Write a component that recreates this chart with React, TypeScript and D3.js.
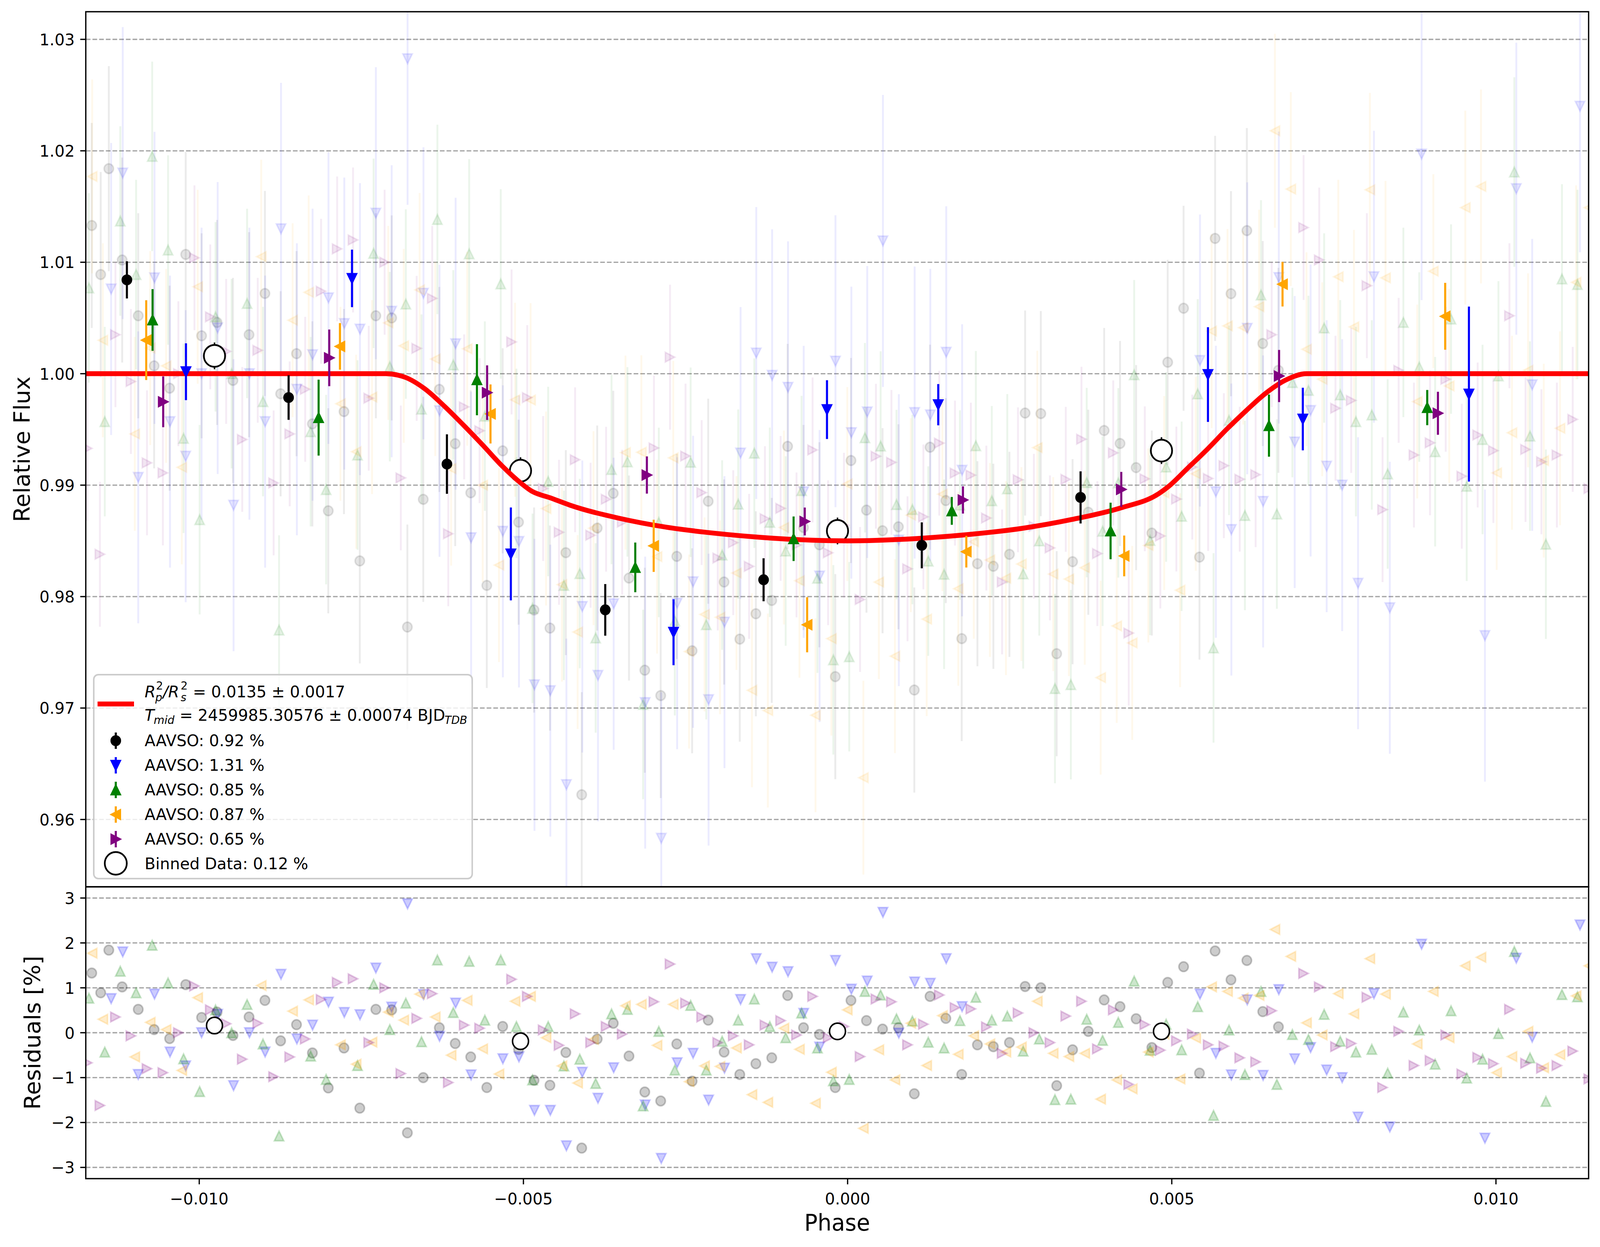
import React from 'react';
import * as d3 from 'd3';

const W = 4215;
const H = 3192;
const LEFT = 226;
const RIGHT = 4185;
const TOP = 30;
const MID = 2270;
const BOTTOM = 3017;
const FONT = "'DejaVu Sans', sans-serif";

// red transit model
const modelPhase = [
  -0.0118, -0.00712, -0.00682, -0.00652, -0.00622, -0.00593, -0.00563, -0.00533, -0.00503,
  -0.00488, -0.00458, -0.00428, -0.00354, -0.00279, -0.00204, -0.0013, -0.00055, 0.0,
  0.00114, 0.00197, 0.00271, 0.00346, 0.00421, 0.0048, 0.00495, 0.00525, 0.00555,
  0.00585, 0.00615, 0.00645, 0.00675, 0.00708, 0.0115,
];
const modelFlux = [
  1.0, 1.0, 0.99967, 0.99864, 0.99709, 0.99542, 0.99361, 0.99173, 0.99014,
  0.98949, 0.98885, 0.9882, 0.98705, 0.98622, 0.98568, 0.9853, 0.98506, 0.985,
  0.98524, 0.98563, 0.98614, 0.98692, 0.98795, 0.98924, 0.98988, 0.99155, 0.99323,
  0.99503, 0.9967, 0.99825, 0.99941, 1.0, 1.0,
];

// residuals [phase, residual %] for each AAVSO set
const resBlack: [number, number][] = [
  [-0.011658, 1.33], [-0.01152, 0.89], [-0.011395, 1.84], [-0.011189, 1.02], [-0.010941, 0.52],
  [-0.010696, 0.07], [-0.010457, -0.13], [-0.010209, 1.07], [-0.009964, 0.34], [-0.009725, 0.46],
  [-0.00948, -0.06], [-0.009232, 0.35], [-0.008987, 0.72], [-0.008745, -0.18], [-0.0085, 0.18],
  [-0.008255, -0.45], [-0.00801, -1.23], [-0.007768, -0.34], [-0.007524, -1.68], [-0.007276, 0.52],
  [-0.007032, 0.51], [-0.00679, -2.23], [-0.006545, -1.0], [-0.006297, 0.11], [-0.006052, -0.24],
  [-0.005813, -0.54], [-0.005565, -1.22], [-0.00532, 0.14], [-0.005075, -0.37], [-0.004836, -1.06],
  [-0.004591, -1.17], [-0.004346, -0.44], [-0.004101, -2.57], [-0.003862, -0.14], [-0.003614, 0.21],
  [-0.003372, -0.52], [-0.003128, -1.32], [-0.002883, -1.52], [-0.002635, -0.25],
  [-0.002398, -1.08], [-0.00215, 0.28], [-0.001905, -0.43], [-0.001663, -0.93], [-0.001415, -0.69],
  [-0.00117, -0.56], [-0.000925, 0.83], [-0.00068, 0.11], [-0.000435, -0.04], [-0.00019, -1.22],
  [0.000052, 0.72], [0.000291, 0.27], [0.000539, 0.08], [0.000784, 0.11], [0.001029, -1.36],
  [0.001271, 0.81], [0.001515, 0.32], [0.00176, -0.93], [0.002002, -0.27],
  [0.002248, -0.31], [0.002496, -0.22], [0.002738, 1.03], [0.00298, 1.0], [0.003225, -1.18],
  [0.00347, -0.38], [0.003712, 0.03], [0.003957, 0.73], [0.004202, 0.58], [0.00445, 0.31],
  [0.004692, -0.33], [0.004937, 1.12], [0.005182, 1.47], [0.005427, -0.9], [0.005668, 1.82],
  [0.005913, 1.18], [0.006158, 1.61], [0.006403, 0.47], [0.006645, 0.13],
];
const resBlue: [number, number][] = [
  [-0.011359, 0.76], [-0.01118, 1.8], [-0.010941, -0.93], [-0.01069, 0.86], [-0.010451, -0.43],
  [-0.010209, -0.74], [-0.009964, 0.0], [-0.009716, 0.41], [-0.009471, -1.18], [-0.009226, 0.0],
  [-0.008984, -0.43], [-0.008739, 1.3], [-0.008494, -0.14], [-0.008252, 0.17], [-0.008007, 0.68],
  [-0.007763, 0.45], [-0.007521, 0.4], [-0.007276, 1.44],
  [-0.007032, 0.57], [-0.006787, 2.87], [-0.006542, 0.85], [-0.006294, -0.08], [-0.006046, 0.66],
  [-0.005807, -0.94], [-0.005317, -0.58], [-0.005069, -0.54], [-0.00483, -1.73], [-0.004585, -1.73],
  [-0.004337, -2.52], [-0.004092, -0.88], [-0.00385, -1.46], [-0.003608, -0.78], [-0.003122, -1.61],
  [-0.002874, -2.8], [-0.002629, -0.67],
  [-0.002383, -0.46], [-0.002144, -1.5], [-0.001899, -0.79], [-0.001651, 0.74], [-0.001409, 1.65],
  [-0.001164, 1.46], [-0.000919, 1.36], [-0.000677, 0.43], [-0.000432, -0.32], [-0.000187, 1.61],
  [0.000058, 0.97], [0.000303, 1.15], [0.000545, 2.68], [0.00079, -0.01], [0.001034, 1.13],
  [0.001276, 1.1], [0.001521, 1.65], [0.001766, 0.58],
  [0.005435, 0.86], [0.00568, -0.46], [0.005919, -0.94], [0.006164, 0.73], [0.006409, -0.95],
  [0.006651, 0.96], [0.006896, -0.58], [0.007141, -0.33], [0.007389, -0.83], [0.007628, -1.0],
  [0.007873, -1.88], [0.008118, 0.87], [0.008363, -2.1], [0.008853, 1.97], [0.00983, -2.35],
  [0.010314, 1.66], [0.010559, -0.1], [0.011296, 2.4],
];
const resGreen: [number, number][] = [
  [-0.011702, 0.77], [-0.011457, -0.43], [-0.011218, 1.37], [-0.010974, 0.89], [-0.010726, 1.95],
  [-0.010481, 1.11], [-0.010242, -0.58], [-0.009994, -1.31], [-0.009749, 0.51], [-0.009501, 0.0],
  [-0.009262, 0.63], [-0.009017, -0.25], [-0.008769, -2.3], [-0.008282, -0.52], [-0.008043, -1.04],
  [-0.007559, -0.73], [-0.007311, 1.08],
  [-0.007061, 0.07], [-0.006814, 0.66], [-0.006572, -0.2], [-0.006327, 1.62], [-0.006082, 0.45],
  [-0.005837, 1.59], [-0.005595, 0.28], [-0.00535, 1.62], [-0.005108, 0.14], [-0.00486, -1.05],
  [-0.004618, 0.14], [-0.004376, -0.74], [-0.004131, -0.59], [-0.003886, -1.13], [-0.003641, 0.42],
  [-0.003396, 0.52], [-0.003154, -1.63], [-0.002912, 0.03], [-0.002665, -0.83],
  [-0.002421, 0.61], [-0.00218, -0.83], [-0.001935, -0.19], [-0.001687, 0.28], [-0.001439, 0.75],
  [-0.0012, 0.14], [-0.000955, -0.11], [-0.00071, 0.44], [-0.000465, -0.34], [-0.00022, -1.07],
  [0.000025, -1.04], [0.000267, 0.92], [0.000509, 0.84], [0.000754, 0.31], [0.000999, 0.26],
  [0.001244, -0.21], [0.001488, -0.34], [0.001733, 0.27], [0.001978, 0.79],
  [0.002224, 0.28], [0.002463, 0.37], [0.002708, -0.41], [0.002956, -0.14], [0.003198, -1.49],
  [0.003443, -1.48], [0.003688, 0.3], [0.003933, -0.17], [0.004175, 0.23], [0.00442, 1.15],
  [0.004665, -0.39], [0.004913, 0.19], [0.005152, -0.38], [0.0054, 0.58], [0.005644, -1.84],
  [0.005883, 0.06], [0.006128, -0.93], [0.006376, 0.92], [0.006621, -1.15],
  [0.00686, -0.04], [0.007108, -0.15], [0.00735, 0.41], [0.007598, -0.19], [0.00784, -0.43],
  [0.008085, -0.37], [0.00833, -0.9], [0.008572, 0.46], [0.008817, 0.06], [0.009062, -0.7],
  [0.009307, 0.49], [0.009549, -1.01], [0.009793, -0.59], [0.010038, -0.02], [0.010283, 1.81],
  [0.010525, -0.56], [0.01077, -1.53], [0.011018, 0.85], [0.011257, 0.8],
];
const resOrange: [number, number][] = [
  [-0.011652, 1.77], [-0.011487, 0.3], [-0.010994, -0.54], [-0.010756, 0.23], [-0.010511, 0.07],
  [-0.010269, -0.84], [-0.010024, 0.78], [-0.009044, 1.05], [-0.00856, 0.48], [-0.008312, 0.73],
  [-0.007822, -0.27], [-0.00758, -0.7], [-0.007335, -0.21],
  [-0.007085, 0.46], [-0.006846, 0.28], [-0.006601, 0.86], [-0.00636, 0.35], [-0.006115, -0.5],
  [-0.005867, 0.72], [-0.005628, -0.36], [-0.005377, -0.92], [-0.005129, 0.7], [-0.00489, 0.81],
  [-0.004651, -0.11], [-0.004406, -0.74], [-0.004164, -1.12], [-0.003919, -0.15], [-0.003426, 0.6],
  [-0.003181, 0.63], [-0.002939, -0.28], [-0.002689, 0.63],
  [-0.002445, -1.09], [-0.002206, -0.74], [-0.001968, -0.75], [-0.001714, -0.34], [-0.001475, -1.38],
  [-0.00123, -1.55], [-0.000982, 0.1], [-0.000743, -0.37], [-0.000495, -1.57], [-0.00025, -0.88],
  [-0.000005, 0.51], [0.000243, -2.13], [0.000482, -0.38], [0.00073, -1.05], [0.000975, 0.21],
  [0.00122, -0.73], [0.001462, 0.38], [0.001707, -0.48], [0.001946, -0.07],
  [0.002195, -0.25], [0.002442, -0.43], [0.002681, -0.32], [0.002926, 0.7], [0.003171, -0.46],
  [0.003413, -0.53], [0.003658, -0.46], [0.003903, -1.48], [0.004151, -1.05], [0.00439, -1.25],
  [0.004638, -0.43], [0.004883, -0.03], [0.005128, -1.03], [0.00537, -0.12], [0.005615, 1.02],
  [0.00586, 0.92], [0.006102, 0.77], [0.006347, 0.83], [0.006591, 2.3],
  [0.006836, 1.7], [0.007078, 0.22], [0.00732, -0.05], [0.007568, 0.87], [0.00781, 0.42],
  [0.008055, 1.65], [0.008297, 0.86], [0.008786, -0.25], [0.009034, 0.92], [0.009279, -0.11],
  [0.009527, 1.49], [0.009769, 1.68], [0.010011, -0.89], [0.010247, -0.53], [0.010495, 0.03],
  [0.010737, -0.78], [0.010988, -0.49], [0.011236, 0.82], [0.011432, 1.49],
];
const resPurple: [number, number][] = [
  [-0.011726, -0.67], [-0.011532, -1.62], [-0.011293, 0.35], [-0.011054, -0.07], [-0.010806, -0.8],
  [-0.010561, -0.89], [-0.010322, 0.0], [-0.010074, 1.04], [-0.00983, 0.51], [-0.009585, 0.2],
  [-0.009337, -0.59], [-0.009098, 0.21], [-0.008853, -0.98], [-0.008605, -0.54], [-0.008366, -0.14],
  [-0.008121, 0.74], [-0.007873, 1.12], [-0.007628, 1.2], [-0.007386, -0.22], [-0.007141, 1.0],
  [-0.006891, -0.91], [-0.006646, 0.32], [-0.006407, 0.87], [-0.006159, -1.11], [-0.005914, 0.17],
  [-0.005676, 0.1], [-0.005183, 1.19], [-0.004941, 0.81], [-0.004696, 0.06], [-0.004451, -0.28],
  [-0.004203, 0.42], [-0.003964, -0.22], [-0.003725, 0.14], [-0.003477, -0.03], [-0.002987, 0.69],
  [-0.002739, 1.53], [-0.0025, 0.66],
  [-0.002251, 0.35], [-0.002003, -0.22], [-0.001764, -0.07], [-0.001519, -0.27], [-0.001275, 0.17],
  [-0.001033, 0.27], [-0.000788, -0.05], [-0.00054, 0.81], [-0.000301, -0.11], [-0.000056, 0.14],
  [0.000192, -0.53], [0.000437, 0.75], [0.000676, 0.69], [0.000924, -0.27], [0.001169, 0.19],
  [0.001414, 0.84], [0.001656, 0.56], [0.001901, 0.53], [0.00214, 0.13],
  [0.002383, -0.46], [0.002628, 0.44], [0.002873, 0.0], [0.003121, -0.22], [0.003365, 0.37],
  [0.003607, 0.7], [0.003852, -0.36], [0.004097, 0.51], [0.004336, -1.15], [0.004584, 0.18],
  [0.004823, -0.39], [0.005071, -0.18], [0.005316, -0.03], [0.005561, -0.27], [0.005803, -0.3],
  [0.006048, -0.56], [0.006293, -0.65], [0.006541, 0.49],
  [0.007033, 1.32], [0.007274, 1.02], [0.007525, -0.31], [0.007767, -0.24], [0.008009, 0.79],
  [0.008251, -1.22], [0.008499, 0.03], [0.008735, -0.73], [0.008983, -0.62], [0.009225, -0.05],
  [0.009473, -0.92], [0.009718, -0.55], [0.00996, -0.69], [0.010208, 0.52], [0.010456, -0.68],
  [0.010701, -0.79], [0.01094, -0.73], [0.011184, -0.41], [0.011432, -1.03],
];

// binned points per set [phase, flux, error]
const binBlack: [number, number, number][] = [
  [-0.011116, 1.00842, 0.00167], [-0.008622, 0.99786, 0.002], [-0.00618, 0.99189, 0.00267],
  [-0.003738, 0.97881, 0.00232], [-0.001296, 0.98151, 0.00193], [0.001144, 0.9846, 0.00206],
  [0.003593, 0.9889, 0.00234],
];
const binBlue: [number, number, number][] = [
  [-0.010205, 1.00018, 0.00255], [-0.007644, 1.00855, 0.00258], [-0.005194, 0.98383, 0.00417],
  [-0.002685, 0.9768, 0.00296], [-0.000318, 0.99678, 0.00264], [0.001398, 0.99722, 0.00185],
  [0.005558, 0.99992, 0.00425], [0.007021, 0.99593, 0.00281], [0.009583, 0.99817, 0.00785],
];
const binGreen: [number, number, number][] = [
  [-0.01072, 1.00482, 0.00277], [-0.008159, 0.99606, 0.00341], [-0.005717, 0.99946, 0.00319],
  [-0.003275, 0.98262, 0.00223], [-0.000833, 0.98519, 0.002], [0.001607, 0.98769, 0.00125],
  [0.004056, 0.98589, 0.00254], [0.006499, 0.99534, 0.00279], [0.00894, 0.99696, 0.00158],
];
const binOrange: [number, number, number][] = [
  [-0.010818, 1.00301, 0.00358], [-0.00783, 1.00245, 0.00209], [-0.005508, 0.99639, 0.00265],
  [-0.002991, 0.98455, 0.00234], [-0.000624, 0.97747, 0.00247], [0.001831, 0.98403, 0.00142],
  [0.004266, 0.98365, 0.00183], [0.006708, 1.00803, 0.002], [0.009217, 1.00515, 0.003],
];
const binPurple: [number, number, number][] = [
  [-0.010556, 0.99748, 0.00228], [-0.007995, 1.00142, 0.00254], [-0.00556, 0.9983, 0.00245],
  [-0.003096, 0.99091, 0.00167], [-0.000661, 0.98674, 0.00125], [0.001779, 0.98867, 0.00122],
  [0.004221, 0.98962, 0.00157], [0.006655, 0.99979, 0.00234], [0.009105, 0.99645, 0.00193],
];

// all sets binned together
const binnedPhase = [-0.009765, -0.005045, -0.000156, 0.004841];
const binnedFlux = [1.0016, 0.9913, 0.98589, 0.9931];
const binnedErr = [0.0012, 0.0012, 0.0012, 0.0012];
const binnedResid = [0.16, -0.19, 0.03, 0.03];

const seriesLabels = ['AAVSO: 0.92 %', 'AAVSO: 1.31 %', 'AAVSO: 0.85 %', 'AAVSO: 0.87 %', 'AAVSO: 0.65 %'];
const seriesColors = ['#000000', '#0000ff', '#008000', '#ffa500', '#800080'];
const seriesMarkers = ['o', 'v', '^', '<', '>'];
const rawErr = [0.0092, 0.0131, 0.0085, 0.0087, 0.0065];
const seriesRes = [resBlack, resBlue, resGreen, resOrange, resPurple];
const seriesBins = [binBlack, binBlue, binGreen, binOrange, binPurple];

const xTicks = [-0.01, -0.005, 0, 0.005, 0.01];
const yTicksMain = [0.96, 0.97, 0.98, 0.99, 1.0, 1.01, 1.02, 1.03];
const yTicksRes = [-3, -2, -1, 0, 1, 2, 3];

const x = d3.scaleLinear().domain([-0.01175, 0.011429]).range([LEFT, RIGHT]);
const yMain = d3.scaleLinear().domain([0.95396, 1.03248]).range([MID, TOP]);
const yRes = d3.scaleLinear().domain([-3.25, 3.25]).range([BOTTOM, MID]);
const modelAt = d3.scaleLinear().domain(modelPhase).range(modelFlux).clamp(true);

const modelLine = d3
  .line<number>()
  .x((_, i) => x(modelPhase[i]))
  .y((d) => yMain(d))
  .curve(d3.curveMonotoneX);

function markerPath(shape: string, s: number): string {
  const h = s / 2;
  if (shape === 'v') return `M${-h},${-h}L${h},${-h}L0,${h}Z`;
  if (shape === '^') return `M${-h},${h}L${h},${h}L0,${-h}Z`;
  if (shape === '<') return `M${h},${-h}L${h},${h}L${-h},0Z`;
  if (shape === '>') return `M${-h},${-h}L${-h},${h}L${h},0Z`;
  return `M${h},0A${h},${h} 0 1,1 ${-h},0A${h},${h} 0 1,1 ${h},0Z`;
}

const fmtMain = d3.format('.2f');
const fmtRes = d3.format('d');
const fmtX = d3.format('.3f');

const TICK = 14.6;
const TICK_FS = 41.7;
const LABEL_FS = 58;
const GRID = { stroke: '#a6a6a6', strokeWidth: 3.3, strokeDasharray: '12.3,5.3' };

const App: React.FC = () => {
  const legendRows = [1910, 1973, 2036, 2099, 2162];
  return (
    <div style={{ position: 'fixed', left: 0, top: 0, right: 0, bottom: 0, background: '#fff' }}>
      <svg
        width="100%"
        height="100%"
        viewBox={`0 0 ${W} ${H}`}
        preserveAspectRatio="none"
        style={{ display: 'block' }}
        fontFamily={FONT}
      >
        <defs>
          <clipPath id="clipMain">
            <rect x={LEFT} y={TOP} width={RIGHT - LEFT} height={MID - TOP} />
          </clipPath>
          <clipPath id="clipRes">
            <rect x={LEFT} y={MID} width={RIGHT - LEFT} height={BOTTOM - MID} />
          </clipPath>
        </defs>
        <rect width={W} height={H} fill="#fff" />

        {/* main panel */}
        <g clipPath="url(#clipMain)">
          {yTicksMain.map((t) => (
            <line key={t} x1={LEFT} x2={RIGHT} y1={yMain(t)} y2={yMain(t)} {...GRID} />
          ))}
          {seriesRes.map((res, si) => (
            <g key={si}>
              {res.map(([p, r], j) => {
                const f = modelAt(p) + r / 100;
                return (
                  <g key={j}>
                    <line
                      x1={x(p)}
                      x2={x(p)}
                      y1={yMain(f - rawErr[si])}
                      y2={yMain(f + rawErr[si])}
                      stroke={seriesColors[si]}
                      strokeOpacity={0.08}
                      strokeWidth={5}
                    />
                    <path
                      d={markerPath(seriesMarkers[si], 25)}
                      transform={`translate(${x(p)},${yMain(f)})`}
                      fill={seriesColors[si]}
                      fillOpacity={0.1}
                      stroke={seriesColors[si]}
                      strokeOpacity={0.1}
                      strokeWidth={4}
                    />
                  </g>
                );
              })}
            </g>
          ))}
          {binnedPhase.map((p, i) => (
            <g key={i}>
              <line
                x1={x(p)}
                x2={x(p)}
                y1={yMain(binnedFlux[i] - binnedErr[i])}
                y2={yMain(binnedFlux[i] + binnedErr[i])}
                stroke="#000"
                strokeWidth={4}
              />
              <circle cx={x(p)} cy={yMain(binnedFlux[i])} r={28} fill="#fff" stroke="#000" strokeWidth={4.5} />
            </g>
          ))}
          <path d={modelLine(modelFlux) || ''} fill="none" stroke="#ff0000" strokeWidth={12.5} />
          {seriesBins.map((bins, si) => (
            <g key={si}>
              {bins.map(([p, f, e], j) => (
                <g key={j}>
                  <line
                    x1={x(p)}
                    x2={x(p)}
                    y1={yMain(f - e)}
                    y2={yMain(f + e)}
                    stroke={seriesColors[si]}
                    strokeWidth={5.5}
                  />
                  <path
                    d={markerPath(seriesMarkers[si], 24)}
                    transform={`translate(${x(p)},${yMain(f)})`}
                    fill={seriesColors[si]}
                    stroke={seriesColors[si]}
                    strokeWidth={4}
                  />
                </g>
              ))}
            </g>
          ))}
        </g>

        {/* residual panel */}
        <g clipPath="url(#clipRes)">
          {yTicksRes.map((t) => (
            <line key={t} x1={LEFT} x2={RIGHT} y1={yRes(t)} y2={yRes(t)} {...GRID} />
          ))}
          {seriesRes.map((res, si) => (
            <g key={si}>
              {res.map(([p, r], j) => (
                <path
                  key={j}
                  d={markerPath(seriesMarkers[si], 25)}
                  transform={`translate(${x(p)},${yRes(r)})`}
                  fill={seriesColors[si]}
                  fillOpacity={0.2}
                  stroke={seriesColors[si]}
                  strokeOpacity={0.2}
                  strokeWidth={4}
                />
              ))}
            </g>
          ))}
          {binnedPhase.map((p, i) => (
            <circle key={i} cx={x(p)} cy={yRes(binnedResid[i])} r={21} fill="#fff" stroke="#000" strokeWidth={4} />
          ))}
        </g>

        {/* frames */}
        <rect x={LEFT} y={TOP} width={RIGHT - LEFT} height={MID - TOP} fill="none" stroke="#000" strokeWidth={3.4} />
        <rect x={LEFT} y={MID} width={RIGHT - LEFT} height={BOTTOM - MID} fill="none" stroke="#000" strokeWidth={3.4} />

        {/* y ticks main */}
        {yTicksMain.map((t) => (
          <g key={t}>
            <line x1={LEFT - TICK} x2={LEFT} y1={yMain(t)} y2={yMain(t)} stroke="#000" strokeWidth={3.3} />
            <text x={LEFT - 2 * TICK} y={yMain(t)} dy="0.36em" textAnchor="end" fontSize={TICK_FS}>
              {fmtMain(t)}
            </text>
          </g>
        ))}
        {/* y ticks residual */}
        {yTicksRes.map((t) => (
          <g key={t}>
            <line x1={LEFT - TICK} x2={LEFT} y1={yRes(t)} y2={yRes(t)} stroke="#000" strokeWidth={3.3} />
            <text x={LEFT - 2 * TICK} y={yRes(t)} dy="0.36em" textAnchor="end" fontSize={TICK_FS}>
              {fmtRes(t)}
            </text>
          </g>
        ))}
        {/* x ticks */}
        {xTicks.map((t) => (
          <g key={t}>
            <line x1={x(t)} x2={x(t)} y1={BOTTOM} y2={BOTTOM + TICK} stroke="#000" strokeWidth={3.3} />
            <text x={x(t)} y={3083} textAnchor="middle" fontSize={TICK_FS}>
              {fmtX(t)}
            </text>
          </g>
        ))}

        {/* axis labels */}
        <text
          transform={`translate(78,${(TOP + MID) / 2}) rotate(-90)`}
          textAnchor="middle"
          fontSize={LABEL_FS}
        >
          Relative Flux
        </text>
        <text
          transform={`translate(106,${(MID + BOTTOM) / 2}) rotate(-90)`}
          textAnchor="middle"
          fontSize={LABEL_FS}
        >
          Residuals [%]
        </text>
        <text x={(LEFT + RIGHT) / 2} y={3150} textAnchor="middle" fontSize={LABEL_FS}>
          Phase
        </text>

        {/* legend */}
        <g fontSize={TICK_FS}>
          <rect
            x={247}
            y={1727}
            width={997}
            height={522}
            rx={12}
            fill="#fff"
            fillOpacity={0.8}
            stroke="#cccccc"
            strokeWidth={4}
          />
          <line x1={257} x2={353} y1={1802} y2={1802} stroke="#ff0000" strokeWidth={12.5} />
          <text x={381} y={1785} fontStyle="italic">R</text>
          <text x={411} y={1765} fontSize={29}>2</text>
          <text x={409} y={1795} fontSize={29} fontStyle="italic">p</text>
          <text x={429} y={1785} fontStyle="italic">/R</text>
          <text x={476} y={1765} fontSize={29}>2</text>
          <text x={476} y={1795} fontSize={29} fontStyle="italic">s</text>
          <text x={508} y={1785}>= 0.0135 ± 0.0017</text>
          <text x={381} y={1845} fontStyle="italic">T</text>
          <text x={405} y={1853} fontSize={29} fontStyle="italic">mid</text>
          <text x={473} y={1845}>= 2459985.30576 ± 0.00074 BJD</text>
          <text x={1171} y={1853} fontSize={29} fontStyle="italic">TDB</text>
          {seriesLabels.map((lab, si) => (
            <g key={si}>
              <line
                x1={305}
                x2={305}
                y1={legendRows[si] - 14 - 21}
                y2={legendRows[si] - 14 + 21}
                stroke={seriesColors[si]}
                strokeWidth={5.5}
              />
              <path
                d={markerPath(seriesMarkers[si], 24)}
                transform={`translate(305,${legendRows[si] - 14})`}
                fill={seriesColors[si]}
                stroke={seriesColors[si]}
                strokeWidth={4}
              />
              <text x={381} y={legendRows[si]}>{lab}</text>
            </g>
          ))}
          <circle cx={305} cy={2210} r={29} fill="#fff" stroke="#000" strokeWidth={4.5} />
          <text x={381} y={2225}>Binned Data: 0.12 %</text>
        </g>
      </svg>
    </div>
  );
};

export default App;
